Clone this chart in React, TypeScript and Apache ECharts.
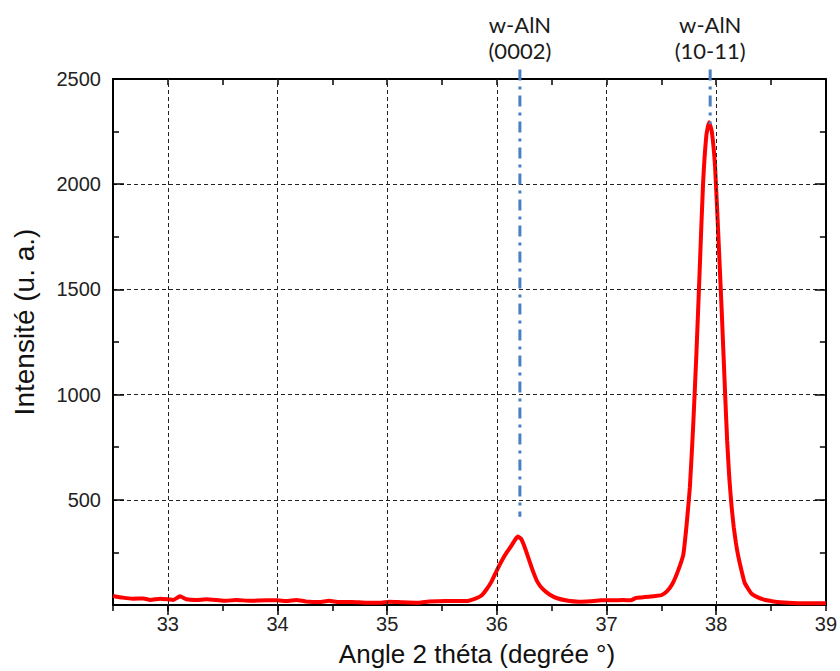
import React, { useEffect, useRef } from 'react';
import * as echarts from 'echarts';

// Diffraction scan (2θ in degrees, intensity in a.u.)
const angle = [
  32.5, 32.59, 32.68, 32.78, 32.84, 32.93, 33.0, 33.05, 33.11, 33.17, 33.26, 33.35, 33.44, 33.53,
  33.62, 33.75, 33.9, 34.0, 34.08, 34.17, 34.26, 34.38, 34.47, 34.56, 34.68, 34.81, 34.93, 35.02,
  35.14, 35.29, 35.38, 35.53, 35.72, 35.81, 35.86, 35.9, 35.95, 36.0, 36.05, 36.09, 36.13, 36.16,
  36.19, 36.22, 36.25, 36.29, 36.33, 36.37, 36.42, 36.48, 36.55, 36.65, 36.75, 36.85, 36.95, 37.05,
  37.15, 37.22, 37.27, 37.32, 37.4, 37.5, 37.55, 37.6, 37.65, 37.7, 37.73, 37.76, 37.79, 37.82,
  37.85, 37.88, 37.91, 37.935, 37.96, 37.99, 38.02, 38.05, 38.08, 38.1, 38.12, 38.14, 38.16, 38.18,
  38.2, 38.23, 38.26, 38.32, 38.38, 38.44, 38.5, 38.56, 38.7, 38.85, 39.0,
];
const intensity = [
  43, 35, 30, 31, 24, 30, 27, 24, 41, 27, 24, 27, 24, 20,
  24, 20, 22, 22, 19, 24, 17, 14, 20, 14, 14, 11, 11, 16,
  13, 11, 17, 19, 19, 32, 45, 70, 110, 165, 215, 250, 280, 305,
  325, 315, 280, 220, 160, 110, 75, 50, 32, 20, 16, 18, 22, 22,
  24, 22, 34, 36, 40, 47, 65, 100, 160, 240, 380, 560, 850, 1200,
  1600, 2000, 2230, 2295, 2250, 2080, 1750, 1400, 1020, 780, 600, 470, 370, 295,
  235, 165, 105, 55, 36, 25, 19, 14, 10, 8, 8,
];

// Reference peak markers
const peakPositions = [36.21, 37.945];
const peakMarkerBottom = [420, 2285];
const peakNames = ['w-AlN', 'w-AlN'];
const peakIndices = ['(0002)', '(10-11)'];
const markerTop = 2545;

// Axis ticks
const xMin = 32.5;
const xMax = 39;
const xMajorTicks = [33, 34, 35, 36, 37, 38, 39];
const xGridLines = [33, 34, 35, 36, 37, 38];
const yMax = 2500;

const xTitle = 'Angle 2 théta (degrée °)';
const yTitle = 'Intensité (u. a.)';

export default function App() {
  const ref = useRef<HTMLDivElement>(null);

  useEffect(() => {
    if (!ref.current) return;
    const chart = echarts.init(ref.current, undefined, { renderer: 'svg' });
    const font = '"Liberation Sans", Arial, sans-serif';
    const black = '#000';

    const markerSeries = peakPositions.map((p, i) => ({
      type: 'line',
      z: 5,
      clip: false,
      symbol: 'none',
      silent: true,
      lineStyle: { color: '#4a7fc4', width: 3, type: [11, 6, 3, 6] },
      data: [
        [p, markerTop],
        [p, peakMarkerBottom[i]],
      ],
    }));

    chart.setOption({
      animation: false,
      backgroundColor: '#fff',
      grid: { left: 113, right: 11, top: 79, bottom: 66 },
      xAxis: [
        {
          type: 'value',
          position: 'bottom',
          min: xMin,
          max: xMax,
          interval: 0.5,
          axisLine: { show: true, onZero: false, lineStyle: { color: black, width: 2 } },
          axisTick: { show: true, inside: false, length: 6, lineStyle: { color: black, width: 1.5 } },
          axisLabel: {
            formatter: (v: number) => (xMajorTicks.includes(v) ? String(v) : ''),
            fontFamily: font,
            fontSize: 20,
            color: '#222',
            margin: 9,
          },
          splitLine: { show: false },
        },
        {
          type: 'value',
          position: 'top',
          min: xMin,
          max: xMax,
          interval: 0.5,
          axisLine: { show: true, onZero: false, lineStyle: { color: black, width: 2 } },
          axisTick: { show: true, inside: true, length: 6, lineStyle: { color: black, width: 1.5 } },
          axisLabel: { show: false },
          splitLine: { show: false },
        },
        {
          type: 'value',
          position: 'top',
          min: xMin,
          max: xMax,
          interval: 0.5,
          axisLine: { show: false },
          axisTick: { show: true, inside: true, length: 10, customValues: xGridLines, lineStyle: { color: black, width: 1.5 } },
          axisLabel: { show: false },
          splitLine: { show: false },
        },
      ],
      yAxis: [
        {
          type: 'value',
          position: 'left',
          min: 0,
          max: yMax,
          interval: 500,
          axisLine: { show: true, onZero: false, lineStyle: { color: black, width: 2 } },
          axisTick: { show: true, inside: true, length: 11, lineStyle: { color: black, width: 1.5 } },
          minorTick: { show: true, splitNumber: 2, length: 6, lineStyle: { color: black, width: 1.5 } },
          axisLabel: {
            formatter: (v: number) => (v === 0 ? '' : String(v)),
            fontFamily: font,
            fontSize: 20,
            color: '#222',
            margin: 12,
          },
          splitLine: { show: true, lineStyle: { color: '#222', width: 1, type: [4, 3] } },
        },
        {
          type: 'value',
          position: 'right',
          min: 0,
          max: yMax,
          interval: 500,
          axisLine: { show: true, onZero: false, lineStyle: { color: black, width: 2 } },
          axisTick: { show: true, inside: true, length: 11, lineStyle: { color: black, width: 1.5 } },
          minorTick: { show: true, splitNumber: 2, length: 6, lineStyle: { color: black, width: 1.5 } },
          axisLabel: { show: false },
          splitLine: { show: false },
        },
      ],
      series: [
        {
          type: 'line',
          z: 1,
          silent: true,
          data: [],
          markLine: {
            silent: true,
            symbol: 'none',
            label: { show: false },
            lineStyle: { color: '#222', width: 1, type: [4, 3] },
            data: xGridLines.map((v) => ({ xAxis: v })),
          },
        },
        {
          type: 'line',
          z: 3,
          symbol: 'none',
          smooth: 0.15,
          silent: true,
          lineStyle: { color: '#ff0000', width: 4 },
          data: angle.map((a, i) => [a, intensity[i]]),
        },
        ...markerSeries,
      ],
    });

    const peakLabelGraphics = peakPositions.map((p, i) => {
      const pt = chart.convertToPixel({ xAxisIndex: 0, yAxisIndex: 0 }, [p, markerTop]) as number[];
      return {
        type: 'text',
        x: pt[0],
        y: pt[1] - 6,
        style: {
          text: peakNames[i] + '\n' + peakIndices[i],
          font: '22px Lato, "Open Sans", sans-serif',
          lineHeight: 26,
          fill: '#1a1a1a',
          textAlign: 'center',
          textVerticalAlign: 'bottom',
        },
      };
    });

    chart.setOption({
      graphic: [
        {
          type: 'text',
          x: 477,
          y: 654,
          style: {
            text: xTitle,
            font: '26px "Liberation Sans", Arial, sans-serif',
            fill: '#111',
            textAlign: 'center',
            textVerticalAlign: 'middle',
          },
        },
        {
          type: 'text',
          x: 24,
          y: 322,
          rotation: Math.PI / 2,
          style: {
            text: yTitle,
            font: '28px "Liberation Sans", Arial, sans-serif',
            fill: '#111',
            textAlign: 'center',
            textVerticalAlign: 'middle',
          },
        },
        ...peakLabelGraphics,
      ],
    });

    return () => chart.dispose();
  }, []);

  return (
    <div
      ref={ref}
      style={{ position: 'fixed', left: 0, top: 0, width: 840, height: 671, background: '#fff' }}
    />
  );
}
